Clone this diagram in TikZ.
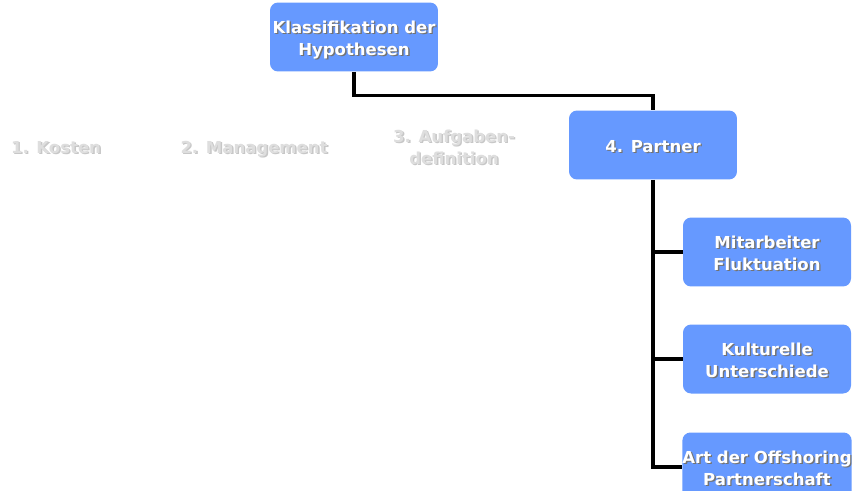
\documentclass[tikz,border=0pt]{standalone}
\usepackage{fontspec}
\setmainfont{DejaVu Sans}
\usetikzlibrary{positioning}
\definecolor{boxblue}{HTML}{6699FF}
\definecolor{fadegray}{HTML}{DEDEDE}
\newcommand{\lstrut}{\rule[-2.2pt]{0pt}{12.5pt}}
\newcommand{\shd}[2][black!55]{\lstrut\rlap{\smash{\kern0.8pt\raisebox{-0.8pt}{\color{#1}#2}}}#2}

\tikzset{
	hyp/.style={fill=boxblue, rounded corners=0.16cm, minimum width=3.36cm, minimum height=1.38cm,
		text=white, font=\bfseries\fontsize{9.4}{12.5}\selectfont, align=center, inner sep=0pt},
	faded/.style={text=fadegray, font=\bfseries\fontsize{9.4}{12.5}\selectfont, align=center, inner sep=0pt},
	tree/.style={line width=1.8pt}
}

\begin{document}
\begin{tikzpicture}[x=0.02cm, y=-0.02cm]
	%%%%% START %%%%%
	
	\useasboundingbox (0, 0) rectangle (854, 490);
	\clip (0, 0) rectangle (854, 490);
	
	\node[hyp] (klass) at (354, 37) {\shd{Klassifikation der}\\\shd{Hypothesen}};
	
	\node[faded] (kosten) at (56, 146) {\shd[black!22]{1. Kosten}};
	\node[faded] (mgmt) at (254, 146) {\shd[black!22]{2. Management}};
	\node[faded] (aufg) at (454, 146) {\shd[black!22]{3. Aufgaben-}\\\shd[black!22]{definition}};
	\node[hyp] (partner) at (653, 145) {\shd{4. Partner}};
	
	\node[hyp] (mitarb) at (767, 252) {\shd{Mitarbeiter}\\\shd{Fluktuation}};
	\node[hyp] (kultur) at (767, 359) {\shd{Kulturelle}\\\shd{Unterschiede}};
	\node[hyp] (art) at (767, 467) {\shd{Art der Offshoring}\\\shd{Partnerschaft}};
	
	\draw[tree] (klass.south) -- ++(0, 24) -| (partner.north);
	\draw[tree] (partner.south) |- (art.west);
	\draw[tree] (partner.south |- mitarb.west) -- (mitarb.west);
	\draw[tree] (partner.south |- kultur.west) -- (kultur.west);
	
	%%%%% END %%%%%
\end{tikzpicture}
\end{document}
